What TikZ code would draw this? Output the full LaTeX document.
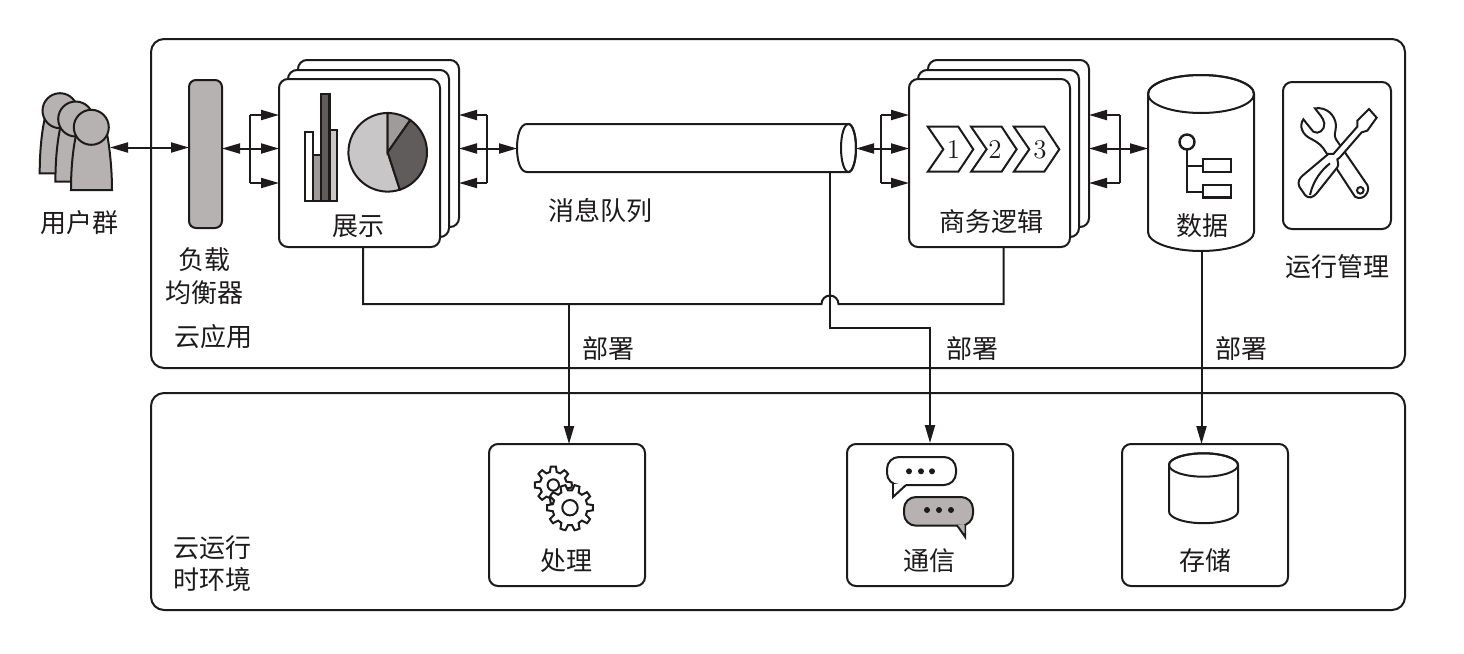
\documentclass[tikz,border=0pt]{standalone}
\usepackage{fontspec}
\usetikzlibrary{arrows.meta,calc}
\newfontfamily\cjkfont{Noto Sans CJK SC}
\definecolor{inkc}{HTML}{1C1A1A}
\definecolor{lbgray}{HTML}{B5B2B1}
\definecolor{midgray}{HTML}{9E9B9A}
\definecolor{darkgray}{HTML}{5F5C5B}
\definecolor{palegray}{HTML}{C9C6C7}
\newcommand{\gearpath}[5]{(#1,#2) ++(0:#4) \foreach \a in {1,...,#5}{ -- ($(#1,#2)+({(\a-1)*360/#5+360/#5*0.18}:#4)$) -- ($(#1,#2)+({(\a-1)*360/#5+360/#5*0.32}:#3)$) -- ($(#1,#2)+({(\a-1)*360/#5+360/#5*0.68}:#3)$) -- ($(#1,#2)+({(\a-1)*360/#5+360/#5*0.82}:#4)$) -- ($(#1,#2)+({\a*360/#5}:#4)$)} -- cycle}
\tikzset{
  line/.style={draw=inkc, line width=1pt},
  rbox/.style 2 args={line, fill=white, rounded corners=4.5pt, minimum width=#1*.5pt, minimum height=#2*.5pt, inner sep=0pt},
  lab/.style={text=inkc, font=\cjkfont\fontsize{13}{15}\selectfont, inner sep=0pt, align=center},
  num/.style={text=inkc, font=\fontsize{13.5}{15}\selectfont, inner sep=0pt},
  tipend/.style={line, -{Triangle[length=9pt,width=5pt]}},
  tipboth/.style={line, {Triangle[length=9pt,width=5pt]}-{Triangle[length=9pt,width=5pt]}},
  person/.pic={
    \draw[line, fill=lbgray] (-20.3,-62.7) -- (20.7,-62.7) .. controls (20.7,-45) and (19,-25) .. (16,-8) -- (-15.3,-8) .. controls (-19,-25) and (-20.3,-45) .. (-20.3,-62.7) -- cycle;
    \draw[line, fill=lbgray] (0,0) circle[radius=17.5];
  },
  chevron/.pic={
    \draw[line, fill=white] (0,0) -- (30.5,0) -- (45.5,-22.6) -- (30.5,-45) -- (0,-45) -- (15.5,-22.6) -- cycle;
  }
}
\begin{document}
\begin{tikzpicture}[x=.5pt,y=.5pt]
\useasboundingbox (0,0) rectangle (1464,-654);
\node[rbox={1254}{329}, rounded corners=6.5pt] (apppanel) at (778,-203.5){};
\node[rbox={1254}{217}, rounded corners=6.5pt] (runpanel) at (778,-501.5){};
\pic at (60,-110.7) {person};
\pic at (75.7,-119) {person};
\pic at (91.3,-127.3) {person};
\coordinate (userout) at (110,-147.5);
\node[lab] (userlab) at (79,-223){用户群};
\node[rbox={33}{148}, fill=lbgray, rounded corners=3.5pt] (lbal) at (205.5,-154){};
\node[lab] (lballab) at (204.5,-276){负载\\[1.5pt]均衡器};
\coordinate (lbalin) at (189,-147.5);
\coordinate (lbalout) at (222,-148.5);
\draw[tipboth] (userout) -- (lbalin);
\node[rbox={161}{167}] (showb) at (378.5,-143.5){};
\node[rbox={161}{167}] (showm) at (368.5,-153.5){};
\node[rbox={161}{168}] (show) at (359.5,-163){};
\node[lab] (showlab) at (358,-226){展示};
\draw[line, fill=white, line width=1.2pt] (305,-200.7) rectangle (313,-131.7);
\draw[line, fill=midgray, line width=1.2pt] (313,-200.7) rectangle (320.7,-155);
\draw[line, fill=palegray, line width=1.2pt] (329.3,-200.7) rectangle (336.7,-130);
\draw[line, fill=darkgray, line width=1.2pt] (320.7,-200.7) rectangle (329.3,-94);
\draw[line, fill=palegray] (387.7,-152.3) -- ++(-72:39.3) arc[start angle=-72,end angle=-270,radius=39.3] -- cycle;
\draw[line, fill=midgray] (387.7,-152.3) -- ++(90:39.3) arc[start angle=90,end angle=55,radius=39.3] -- cycle;
\draw[line, fill=darkgray] (387.7,-152.3) -- ++(55:39.3) arc[start angle=55,end angle=-72,radius=39.3] -- cycle;
\coordinate (showl1) at (279,-115);
\coordinate (showl2) at (279,-148.5);
\coordinate (showl3) at (279,-183);
\coordinate (brl1) at (250,-115);
\coordinate (brl3) at (250,-183);
\draw[line] (brl1) -- (brl3);
\draw[tipend] (brl1) -- (showl1);
\draw[tipboth] (lbalout) -- (showl2);
\draw[tipend] (brl3) -- (showl3);
\draw[line, fill=white] (527,-124) -- (848.5,-124) arc[x radius=7.5,y radius=24,start angle=90,end angle=-90] -- (527,-172) .. controls (520,-172) and (517,-160) .. (517,-148) .. controls (517,-136) and (520,-124) .. (527,-124) -- cycle;
\draw[line] (848.5,-148) ellipse[x radius=7.5,y radius=24];
\node[lab] (queuelab) at (600,-211){消息队列};
\coordinate (queuel) at (517,-148.5);
\coordinate (queuer) at (856,-148.5);
\coordinate (queueb) at (830,-172);
\coordinate (showr1) at (459,-115);
\coordinate (showr2) at (459,-148.5);
\coordinate (showr3) at (459,-183);
\coordinate (brm1) at (487,-115);
\coordinate (brm3) at (487,-183);
\draw[line] (brm1) -- (brm3);
\draw[tipend] (brm1) -- (showr1);
\draw[tipboth] (queuel) -- (showr2);
\draw[tipend] (brm3) -- (showr3);
\node[rbox={161}{167}] (bizb) at (1008.5,-143.5){};
\node[rbox={161}{167}] (bizm) at (998.5,-153.5){};
\node[rbox={161}{168}] (biz) at (989.5,-163){};
\node[lab] (bizlab) at (991,-222){商务逻辑};
\pic at (927.8,-126.7) {chevron};
\pic at (971.1,-126.7) {chevron};
\pic at (1013.8,-126.7) {chevron};
\node[num] (chev1) at (953.5,-150){1};
\node[num] (chev2) at (995,-150){2};
\node[num] (chev3) at (1040,-150){3};
\coordinate (bizl1) at (909,-115);
\coordinate (bizl2) at (909,-148.5);
\coordinate (bizl3) at (909,-183);
\coordinate (brb1) at (881,-115);
\coordinate (brb3) at (881,-183);
\draw[line] (brb1) -- (brb3);
\draw[tipend] (brb1) -- (bizl1);
\draw[tipboth] (queuer) -- (bizl2);
\draw[tipend] (brb3) -- (bizl3);
\draw[line, fill=white] (1148,-94) -- (1148,-232) arc[x radius=53,y radius=19,start angle=180,end angle=360] -- (1254,-94) arc[x radius=53,y radius=19,start angle=0,end angle=180] -- cycle;
\draw[line] (1201,-94) ellipse[x radius=53,y radius=19];
\node[lab] (datalab) at (1202.5,-226){数据};
\draw[line] (1187,-149.5) -- (1187,-191.5) -- (1203,-191.5);
\draw[line] (1187,-165.5) -- (1203,-165.5);
\draw[line, line width=1.2pt] (1187,-142) circle[radius=7.5];
\draw[line, line width=1.2pt] (1203,-159) rectangle (1231,-172);
\draw[line, line width=1.2pt] (1203,-185) rectangle (1231,-197.5);
\coordinate (bizr1) at (1089,-115);
\coordinate (bizr2) at (1089,-148.5);
\coordinate (bizr3) at (1089,-183);
\coordinate (dbin) at (1148,-148.5);
\coordinate (dbout) at (1201.5,-251);
\coordinate (brd1) at (1119.5,-115);
\coordinate (brd3) at (1119.5,-183);
\draw[line] (brd1) -- (brd3);
\draw[tipend] (brd1) -- (bizr1);
\draw[tipboth] (dbin) -- (bizr2);
\draw[tipend] (brd3) -- (bizr3);
\node[rbox={108}{147}] (mgmt) at (1337,-155.5){};
\node[lab] (mgmtlab) at (1337,-267){运行管理};
\begin{scope}[shift={(1280,-80)},xscale=.3333,yscale=-.3333]
\draw[line, fill=white] (105,85) .. controls (140,80) and (165,105) .. (168,135) .. controls (168,155) and (160,165) .. (168,178) -- (262,315) .. controls (272,335) and (250,365) .. (225,350) -- (130,205) .. controls (120,190) and (100,180) .. (90,175) .. controls (70,165) and (55,140) .. (70,118) -- (100,155) .. controls (115,165) and (135,150) .. (133,130) .. controls (130,112) and (115,100) .. (105,85) -- cycle;
\draw[line] (241,331) circle[radius=10];
\draw[line, fill=white] (267,87) -- (290,113) -- (262,152) -- (245,157) -- (180,232) -- (172,238) .. controls (172,248) and (178,252) .. (172,262) -- (110,340) .. controls (100,352) and (85,358) .. (75,345) -- (58,320) .. controls (52,305) and (58,295) .. (70,285) -- (145,222) -- (160,222) -- (232,140) -- (232,122) -- cycle;
\draw[line] (150,250) .. controls (125,270) and (100,300) .. (90,345);
\end{scope}
\node[rbox={156}{142}] (proc) at (567,-515){};
\node[rbox={166}{142}] (comm) at (930,-515){};
\node[rbox={166}{142}] (stor) at (1205,-515){};
\node[lab] (proclab) at (566,-561){处理};
\node[lab] (commlab) at (929,-561){通信};
\node[lab] (storlab) at (1205,-561){存储};
\draw[line, fill=white] \gearpath{553.3}{-485}{13.5}{18.5}{8};
\draw[line, fill=white] (553.3,-485) circle[radius=5.7];
\draw[line, fill=white] \gearpath{570}{-507.7}{17.5}{23}{10};
\draw[line, fill=white] (570,-507.7) circle[radius=7.7];
\draw[line, fill=white, rounded corners=6pt] (906,-485) -- (956,-485) -- (956,-457) -- (887,-457) -- (887,-485) -- (893,-485);
\draw[line, line join=miter] (893,-483) -- (893,-497) -- (906,-485);
\fill[white] (894,-484) -- (894,-494) -- (904,-484.5) -- cycle;
\draw[line, fill=lbgray, rounded corners=6pt] (904,-497) rectangle (973,-525.7);
\draw[line, fill=lbgray, line join=miter] (957,-525.2) -- (965,-536.7) -- (965,-524);
\fill[lbgray] (958,-525) -- (964.5,-533) -- (964.5,-524.5) -- cycle;
\fill[inkc] (909,-471.3) circle[radius=3];
\fill[inkc] (921,-471.3) circle[radius=3];
\fill[inkc] (932,-471.3) circle[radius=3];
\fill[inkc] (927,-510) circle[radius=3];
\fill[inkc] (939,-510) circle[radius=3];
\fill[inkc] (951,-510) circle[radius=3];
\draw[line, fill=white] (1169,-465) -- (1169,-511.5) arc[x radius=34.5,y radius=11.7,start angle=180,end angle=360] -- (1238,-465) arc[x radius=34.5,y radius=11.7,start angle=0,end angle=180] -- cycle;
\draw[line] (1203.5,-465) ellipse[x radius=34.5,y radius=11.7];
\coordinate (showout) at (363,-247);
\coordinate (bizout) at (1003.5,-247);
\coordinate (jumpl) at (821.5,-304);
\coordinate (procbus) at (569,-304);
\coordinate (procin) at (569,-444);
\coordinate (commbend) at (930,-328);
\coordinate (storin) at (1201.5,-444);
\draw[line] (showout) |- (jumpl) arc[start angle=180,end angle=0,radius=8.5] -| (bizout);
\draw[tipend] (procbus) -- (procin);
\draw[tipend] (queueb) |- (commbend) -- (comm.north);
\draw[tipend] (dbout) -- (storin);
\node[lab] (dep1) at (608,-349){部署};
\node[lab] (dep2) at (972,-349){部署};
\node[lab] (dep3) at (1241,-349){部署};
\node[lab] (applab) at (213,-337){云应用};
\node[lab] (runlab) at (212,-564){云运行\\[1pt]时环境};

\end{tikzpicture}
\end{document}
